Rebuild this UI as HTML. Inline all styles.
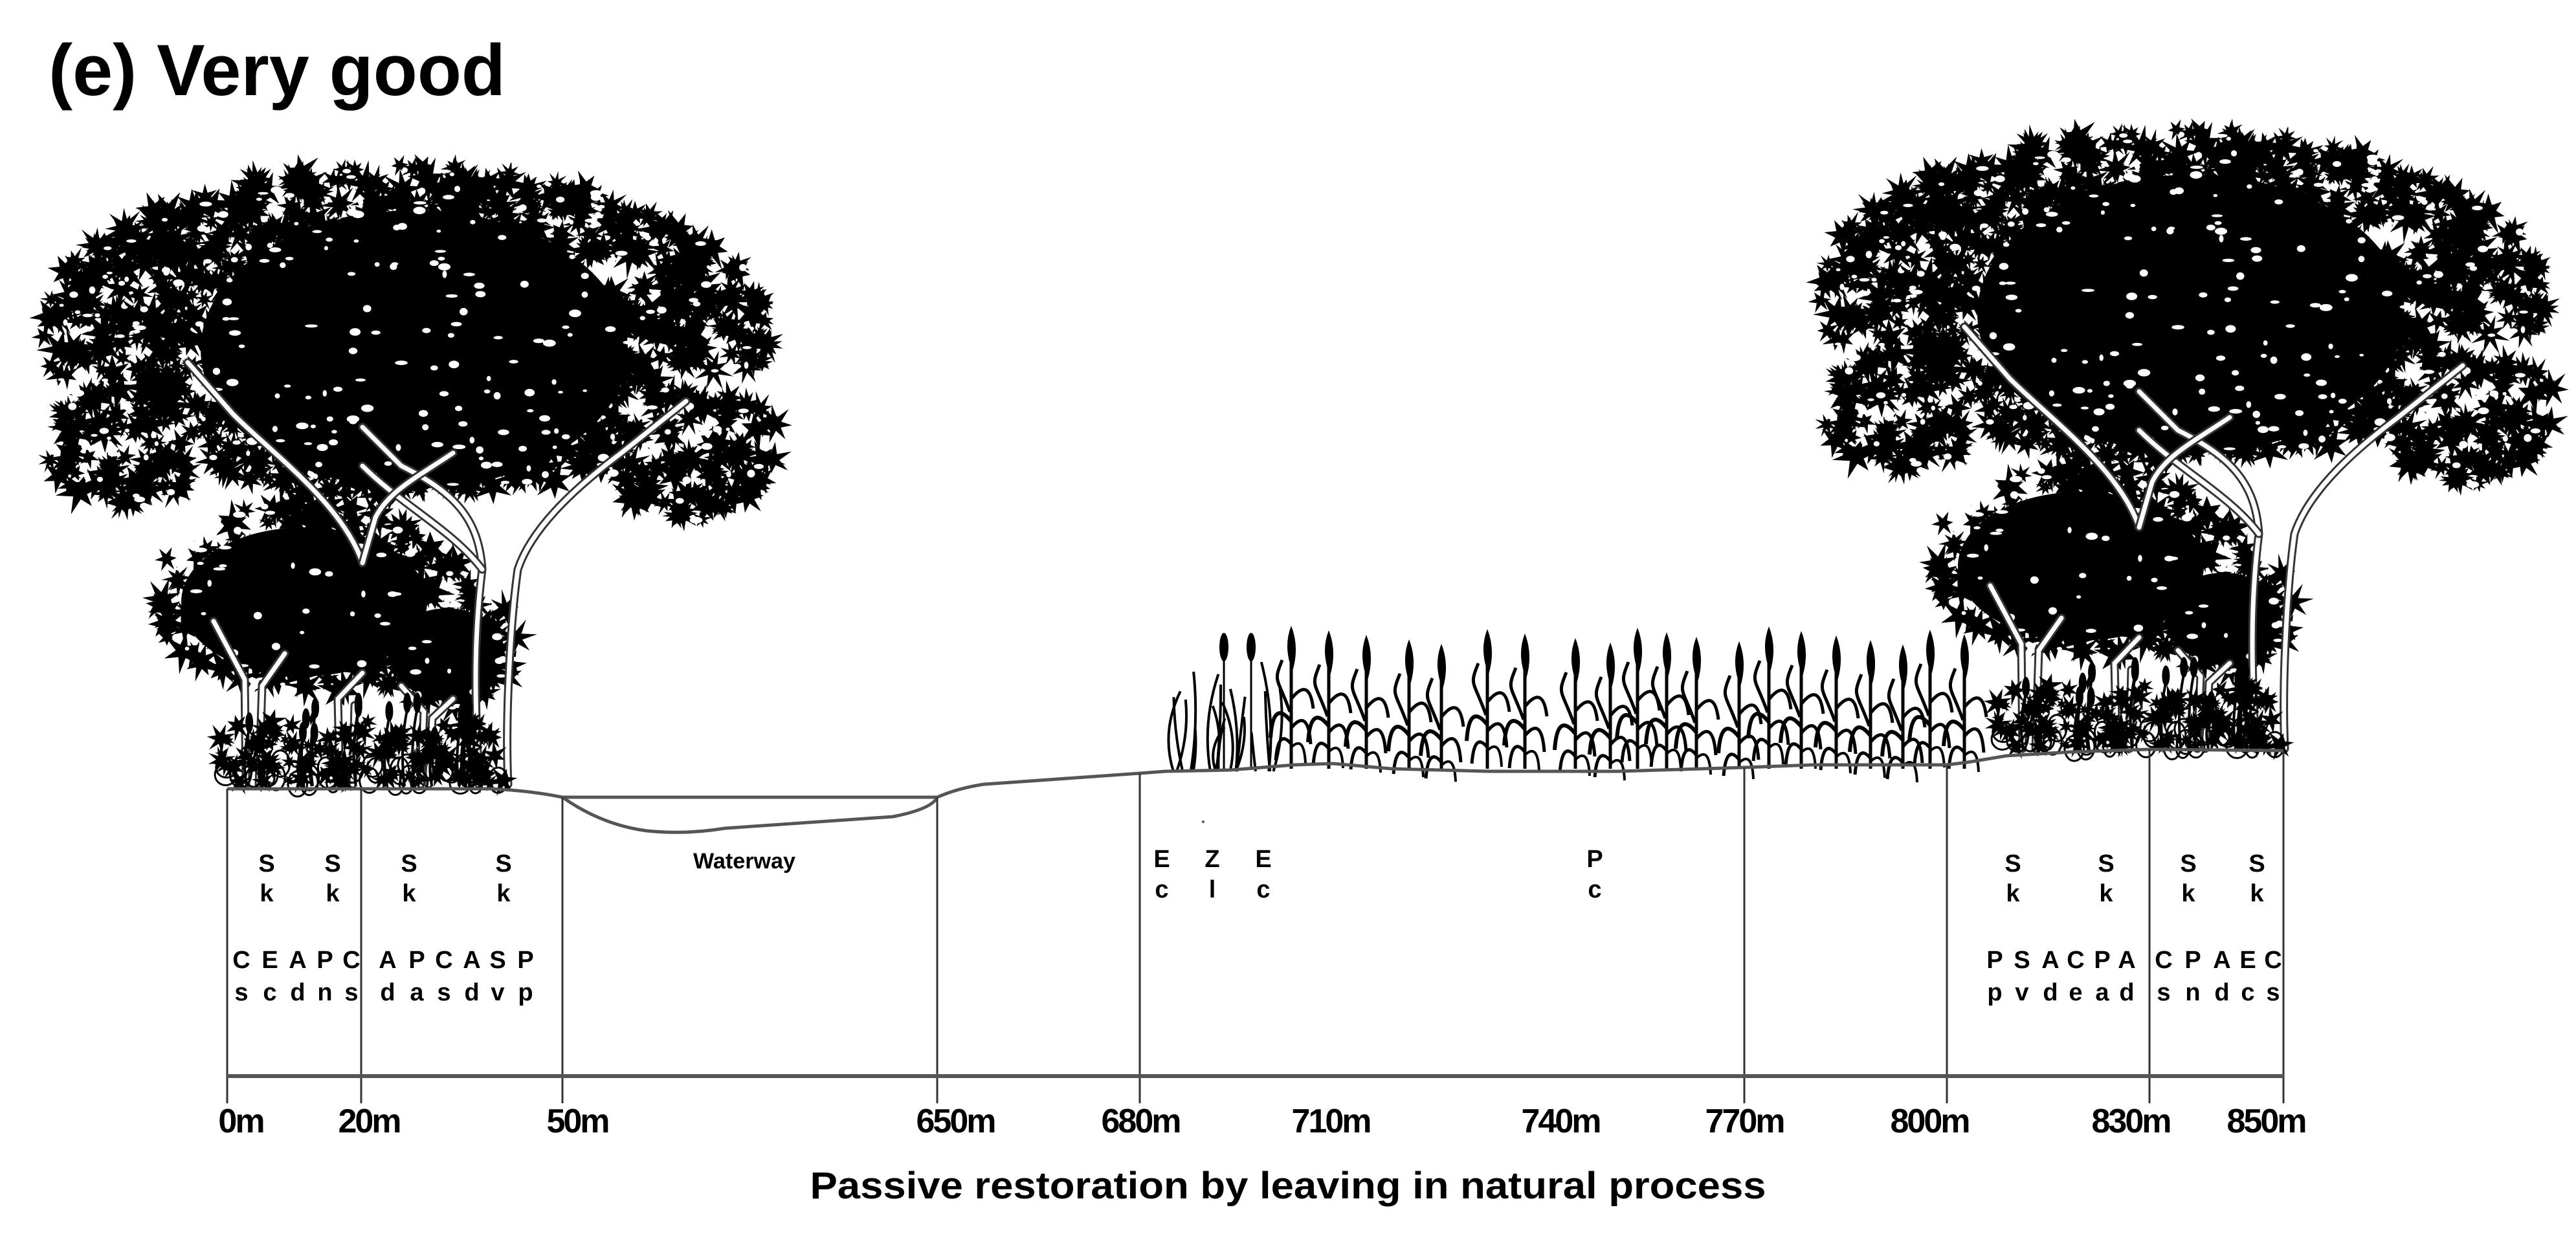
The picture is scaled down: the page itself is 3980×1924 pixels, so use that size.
<!DOCTYPE html>
<html><head><meta charset="utf-8">
<style>
html,body{margin:0;padding:0;background:#fff;}
svg{display:block;}
text{font-family:"Liberation Sans",Arial,sans-serif;fill:#000;}
</style></head>
<body>
<svg id="s" width="3980" height="1924" viewBox="0 0 3980 1924" xmlns="http://www.w3.org/2000/svg">
<rect width="3980" height="1924" fill="#fff"/>
<defs><g id="tree"></g></defs>
<use href="#tree" x="0" y="0"/>
<use href="#tree" x="2745" y="-55"/>
<g id="reeds"></g>
<path d="M351 1219 L760 1219 Q820 1222 869 1232 L1448 1232 Q1480 1218 1520 1212 L1761 1195 L1800 1192 L1900 1190 L2000 1182 L2060 1180 L2150 1188 L2300 1192 L2500 1192 L2695 1186 L2800 1182 L3008 1182 L3040 1178 L3100 1168 L3200 1162 L3321 1158 L3528 1160" fill="none" stroke="#555" stroke-width="5"/>
<path d="M869 1232 Q930 1275 1000 1284 Q1060 1290 1120 1280 L1380 1262 Q1440 1250 1448 1232" fill="none" stroke="#555" stroke-width="5"/>
<g stroke="#333" stroke-width="3">
<line x1="351" y1="1219" x2="351" y2="1705"/>
<line x1="558" y1="1219" x2="558" y2="1705"/>
<line x1="869" y1="1232" x2="869" y2="1705"/>
<line x1="1448" y1="1232" x2="1448" y2="1705"/>
<line x1="1761" y1="1195" x2="1761" y2="1705"/>
<line x1="2695" y1="1186" x2="2695" y2="1705"/>
<line x1="3008" y1="1182" x2="3008" y2="1705"/>
<line x1="3321" y1="1158" x2="3321" y2="1705"/>
<line x1="3528" y1="1160" x2="3528" y2="1705"/>
</g>
<line x1="351" y1="1663" x2="3528" y2="1663" stroke="#555" stroke-width="6"/>
<circle cx="1859" cy="1270" r="2" fill="#555"/>
<text x="75" y="147" font-size="112" font-weight="bold" textLength="706" lengthAdjust="spacingAndGlyphs">(e) Very good</text>
<g font-size="52" font-weight="bold" text-anchor="middle" letter-spacing="-3">
<text x="372" y="1750">0m</text>
<text x="570" y="1750">20m</text>
<text x="892" y="1750">50m</text>
<text x="1476" y="1750">650m</text>
<text x="1762" y="1750">680m</text>
<text x="2056" y="1750">710m</text>
<text x="2411" y="1750">740m</text>
<text x="2695" y="1750">770m</text>
<text x="2981" y="1750">800m</text>
<text x="3292" y="1750">830m</text>
<text x="3501" y="1750">850m</text>
</g>
<text x="1990" y="1852" font-size="58" font-weight="bold" text-anchor="middle" textLength="1477" lengthAdjust="spacingAndGlyphs">Passive restoration by leaving in natural process</text>
<text x="1150" y="1342" font-size="34" font-weight="bold" text-anchor="middle" textLength="158" lengthAdjust="spacingAndGlyphs">Waterway</text>
<g id="sp" font-size="38" font-weight="bold" text-anchor="middle"></g>
</svg>
<script>
(function(){
var NS="http://www.w3.org/2000/svg";
function el(p,n,a){var e=document.createElementNS(NS,n);for(var k in a)e.setAttribute(k,a[k]);p.appendChild(e);return e;}
var seed=12345;function r(){seed=(seed*16807)%2147483647;return (seed-1)/2147483646;}
var sp=document.getElementById('sp');
function col(x,a,b,y1,y2){var t=el(sp,'text',{x:x,y:y1});t.textContent=a;var t2=el(sp,'text',{x:x,y:y2});t2.textContent=b;}
[412,514,632,778,3110,3254,3381,3487].forEach(function(x){col(x,'S','k',1347,1393);});
col(1795,'E','c',1340,1387);col(1873,'Z','l',1340,1387);col(1952,'E','c',1340,1387);col(2464,'P','c',1340,1387);
var L=[[373,'C','s'],[417,'E','c'],[460,'A','d'],[502,'P','n'],[543,'C','s'],[599,'A','d'],[644,'P','a'],[686,'C','s'],[729,'A','d'],[769,'S','v'],[812,'P','p'],
[3082,'P','p'],[3124,'S','v'],[3168,'A','d'],[3207,'C','e'],[3248,'P','a'],[3286,'A','d'],[3343,'C','s'],[3388,'P','n'],[3433,'A','d'],[3473,'E','c'],[3512,'C','s']];
L.forEach(function(a){col(a[0],a[1],a[2],1496,1546);});
var g=document.getElementById('tree');
function inE(x,y,cx,cy,rx,ry){var dx=(x-cx)/rx,dy=(y-cy)/ry;return dx*dx+dy*dy<=1;}
var regs=[[625,510,565,255],[190,680,125,105],[1075,700,135,105],[480,925,245,150],[680,1000,125,100]];
function inside(x,y){for(var i=0;i<regs.length;i++){var q=regs[i];if(inE(x,y,q[0],q[1],q[2],q[3]))return true;}return false;}
function star(cx,cy,R){var n=6+Math.floor(r()*3),pts=[],rot=r()*6.28;for(var i=0;i<n*2;i++){var a=rot+i*Math.PI/n,rr=(i%2?R*0.35:R*(0.7+r()*0.4));pts.push((cx+Math.cos(a)*rr).toFixed(1)+','+(cy+Math.sin(a)*rr).toFixed(1));}el(g,'polygon',{points:pts.join(' '),fill:'#000'});}
el(g,'ellipse',{cx:640,cy:540,rx:330,ry:215,fill:'#000'});
el(g,'ellipse',{cx:470,cy:930,rx:190,ry:115,fill:'#000'});
el(g,'ellipse',{cx:690,cy:1010,rx:90,ry:70,fill:'#000'});
var c=0,tries=0;
while(c<1700&&tries<20000){tries++;var x=40+r()*1170,y=230+r()*920;if(!inside(x,y))continue;star(x,y,16+r()*20);c++;}
for(var i=0;i<450;i++){var x=60+r()*1140,y=260+r()*860;if(!inside(x,y))continue;el(g,'ellipse',{cx:x,cy:y,rx:3+r()*7,ry:2+r()*4,fill:'#fff'});}
var tr=["M380 1212 L378 1050 L330 960","M400 1212 L405 1060 L440 1010","M525 1212 L522 1080 L560 1040","M545 1212 L548 1090","M650 1212 L655 1100 L620 1060","M662 1212 L668 1110 L700 1080",
"M740 1212 C735 1100 730 1000 745 880 C740 800 700 760 620 720 L560 660","M785 1212 C780 1100 790 950 800 880 C820 820 880 760 960 700 L1060 620",
"M745 880 C700 820 620 780 560 720","M560 870 C530 780 420 700 360 640 L290 560","M560 870 L580 800 C600 760 640 740 700 700"];
tr.forEach(function(d){el(g,'path',{d:d,fill:'none',stroke:'#333','stroke-width':13,'stroke-linecap':'round'});el(g,'path',{d:d,fill:'none',stroke:'#fff','stroke-width':7,'stroke-linecap':'round'});});
for(var i=0;i<140;i++){var x=340+r()*440,y=1110+r()*100;star(x,y,10+r()*16);}
for(var i=0;i<40;i++){var x=345+r()*430,y=1180+r()*35;el(g,'ellipse',{cx:x,cy:y,rx:10+r()*8,ry:14+r()*8,fill:'none',stroke:'#000','stroke-width':3});}
for(var i=0;i<14;i++){var x=350+r()*420;var h=60+r()*60;el(g,'path',{d:'M'+x+' 1215 Q'+(x-8)+' '+(1215-h/2)+' '+(x+4)+' '+(1215-h),fill:'none',stroke:'#000','stroke-width':4});el(g,'ellipse',{cx:x+4,cy:1215-h-10,rx:6,ry:16,fill:'#000'});}
var rg=document.getElementById('reeds');
var rx=[1995,2053,2111,2177,2227,2298,2356,2434,2488,2530,2575,2621,2687,2733,2783,2837,2890,2940,2982,3035];
rx.forEach(function(x,i){var top=975+((i*37)%30);var base=1188;
el(rg,'path',{d:'M'+x+' '+(top+20)+' L'+x+' '+base,stroke:'#000','stroke-width':5,fill:'none'});
el(rg,'path',{d:'M'+x+' '+(top-8)+' Q'+(x+13)+' '+(top+25)+' '+(x+2)+' '+(top+62)+' Q'+(x-13)+' '+(top+25)+' '+x+' '+(top-8)+'Z',fill:'#000'});
el(rg,'path',{d:'M'+(x-2)+' '+(top+125)+' C'+(x-22)+' '+(top+70)+' '+(x-28)+' '+(top+80)+' '+(x-14)+' '+(top+45),stroke:'#000','stroke-width':5,fill:'none'});
el(rg,'path',{d:'M'+x+' '+(top+105)+' Q'+(x+28)+' '+(top+70)+' '+(x+34)+' '+(top+120),stroke:'#000','stroke-width':5,fill:'none'});
el(rg,'path',{d:'M'+x+' '+(top+140)+' Q'+(x-28)+' '+(top+105)+' '+(x-32)+' '+(top+165),stroke:'#000','stroke-width':6,fill:'none'});
el(rg,'path',{d:'M'+x+' '+(top+150)+' Q'+(x+26)+' '+(top+118)+' '+(x+30)+' '+(top+175),stroke:'#000','stroke-width':5,fill:'none'});
el(rg,'path',{d:'M'+x+' '+(top+175)+' Q'+(x-20)+' '+(top+150)+' '+(x-24)+' '+(top+200),stroke:'#000','stroke-width':5,fill:'none'});
el(rg,'path',{d:'M'+x+' '+(top+180)+' Q'+(x+20)+' '+(top+160)+' '+(x+22)+' '+(top+205),stroke:'#000','stroke-width':4,fill:'none'});
});
for(var i=0;i<18;i++){var x=1805+r()*180,h=60+r()*110;el(rg,'path',{d:'M'+x+' 1192 Q'+(x+(r()-0.5)*40)+' '+(1192-h/2)+' '+(x+(r()-0.5)*30)+' '+(1192-h),stroke:'#000','stroke-width':4,fill:'none'});}
[1891,1933].forEach(function(x){el(rg,'path',{d:'M'+x+' 1190 L'+x+' 1010',stroke:'#000','stroke-width':3});el(rg,'ellipse',{cx:x,cy:1000,rx:7,ry:22,fill:'#000'});});
})();
</script>
</body></html>
